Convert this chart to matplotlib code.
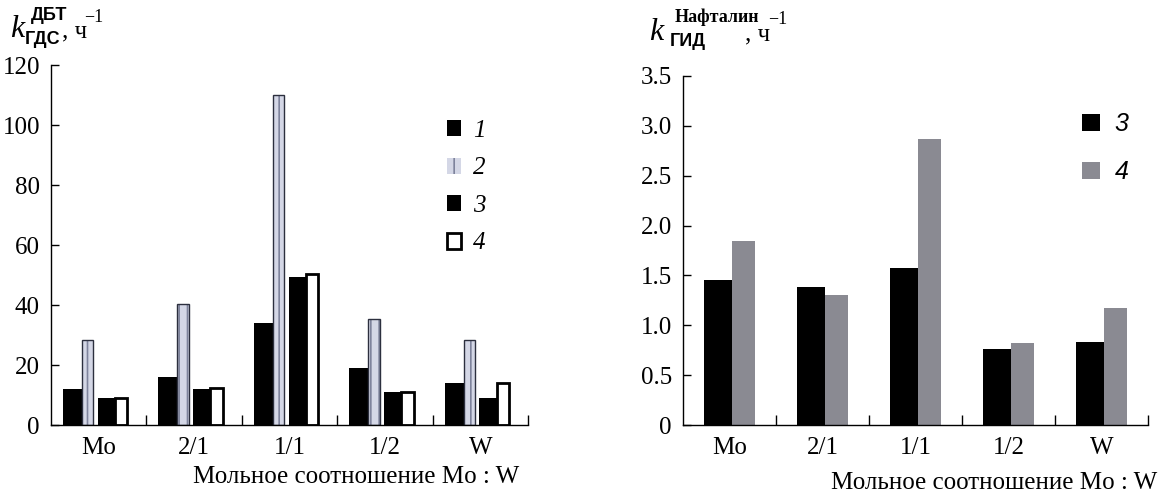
import matplotlib.pyplot as plt
import numpy as np
from matplotlib.ticker import FixedLocator

plt.rcParams['font.family'] = ['Liberation Serif', 'DejaVu Serif']
plt.rcParams['hatch.linewidth'] = 1.2

ratios = ['Mo', '2/1', '1/1', '1/2', 'W']

# ДБТ, rate constants for samples 1-4
dbt_1 = [12, 16, 34, 19, 14]
dbt_2 = [28.5, 40.5, 110, 35.5, 28.5]
dbt_3 = [9, 12, 49.3, 11, 9]
dbt_4 = [9, 12.5, 50.5, 11, 14]

# naphthalene, samples 3 and 4
naph_3 = [1.45, 1.38, 1.57, 0.76, 0.83]
naph_4 = [1.85, 1.30, 2.87, 0.82, 1.17]

W, H = 1173, 495
fig = plt.figure(figsize=(W / 100, H / 100), dpi=100)


def px_axes(x0, y0, x1, y1):
    return fig.add_axes([x0 / W, 1 - y1 / H, (x1 - x0) / W, (y1 - y0) / H])


def px_text(x, y, s, **kw):
    fig.text(x / W, 1 - y / H, s, **kw)


def style_axes(ax):
    n = len(ratios)
    ax.set_xlim(0, n)
    ax.spines['top'].set_visible(False)
    ax.spines['right'].set_visible(False)
    ax.spines['left'].set_linewidth(1.0)
    ax.spines['bottom'].set_linewidth(1.0)
    ax.set_xticks(np.arange(n) + 0.5)
    ax.set_xticklabels(ratios, fontsize=18)
    ax.xaxis.set_minor_locator(FixedLocator(np.arange(1, n + 1)))
    ax.tick_params(axis='x', which='major', length=0, pad=9)
    ax.tick_params(axis='x', which='minor', direction='in', length=7, width=1)
    ax.tick_params(axis='y', direction='in', length=6, width=1, labelsize=18, pad=8)
    ax.set_xlabel('Мольное соотношение Mo : W', fontsize=18, labelpad=4)


x = np.arange(len(ratios))

# left panel: hydrodesulfurization of ДБТ
ax1 = px_axes(51, 65, 528, 425)
ax1.bar(x + 0.125, dbt_1, 0.2, align='edge', color='black', label='1')
ax1.bar(x + 0.325, dbt_2, 0.12, align='edge', facecolor='#d4d7e6',
        edgecolor='#7e839c', hatch='||', linewidth=0, label='2')
ax1.bar(x + 0.325, dbt_2, 0.12, align='edge', facecolor='none',
        edgecolor='#2c2f3e', linewidth=1.0)
ax1.bar(x + 0.49, dbt_3, 0.18, align='edge', color='black', label='3')
ax1.bar(x + 0.67, dbt_4, 0.13, align='edge', facecolor='white',
        edgecolor='black', linewidth=2.0, label='4')
ax1.set_ylim(0, 120)
ax1.set_yticks(range(0, 121, 20))
style_axes(ax1)
ax1.xaxis.set_label_coords(0.64, -0.115)
ax1.legend(loc='upper left', bbox_to_anchor=(0.783, 0.91), frameon=False,
           handlelength=0.55, handleheight=0.6, handletextpad=0.5,
           labelspacing=0.62, prop={'family': 'Liberation Serif',
                                    'style': 'italic', 'size': 18})

# right panel: hydrogenation of naphthalene
ax2 = px_axes(683, 76, 1148, 425)
ax2.bar(x + 0.225, naph_3, 0.3, align='edge', color='black', label='3')
ax2.bar(x + 0.525, naph_4, 0.245, align='edge', color='#8a8a92', label='4')
ax2.set_ylim(0, 3.5)
ax2.set_yticks(np.arange(0, 3.51, 0.5))
ax2.set_yticklabels(['0'] + [f'{v:.1f}' for v in np.arange(0.5, 3.51, 0.5)])
style_axes(ax2)
ax2.xaxis.set_label_coords(0.67, -0.135)
ax2.legend(loc='upper left', bbox_to_anchor=(0.81, 0.96), frameon=False,
           handlelength=0.7, handleheight=0.7, handletextpad=0.6,
           labelspacing=0.95, prop={'family': 'Liberation Sans',
                                    'style': 'italic', 'size': 18})

# axis titles with sub/superscripts
px_text(10, 37, 'k', fontsize=23, style='italic')
px_text(31, 20, 'ДБТ', fontsize=13, family='Liberation Sans', weight='bold')
px_text(25, 44, 'ГДС', fontsize=13, family='Liberation Sans', weight='bold')
px_text(62, 37, ', ч', fontsize=18)
px_text(84, 22, '−1', fontsize=13)

px_text(649, 40, 'k', fontsize=23, style='italic')
px_text(675, 22, 'Нафталин', fontsize=13, weight='bold')
px_text(670, 46, 'ГИД', fontsize=13, family='Liberation Sans', weight='bold')
px_text(745, 40, ', ч', fontsize=18)
px_text(768, 24, '−1', fontsize=13)

fig.savefig('out.png', dpi=100)
